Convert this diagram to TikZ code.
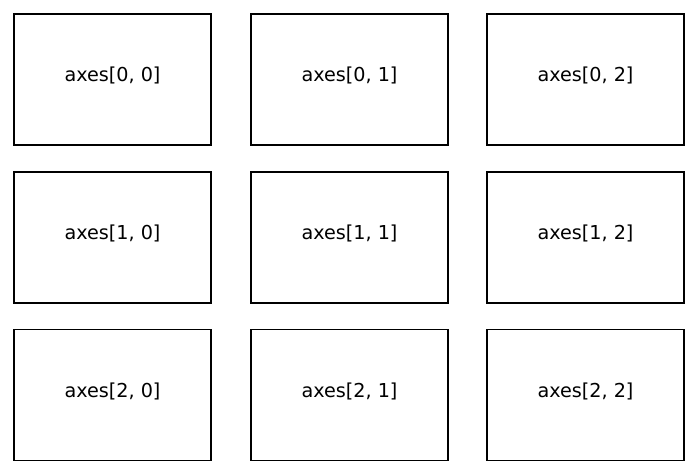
\documentclass[tikz,border=0pt]{standalone}
\usepackage{fontspec}
\setmainfont{DejaVu Sans}
\tikzset{
	axbox/.style = {draw, line width = 0.8pt, minimum width = 98.5pt, minimum height = 65.5pt, inner sep = 0pt, font = \fontsize{9.6pt}{11.5pt}\selectfont}
}
\begin{document}
\begin{tikzpicture}[x = 0.5pt, y = -0.5pt]
	\useasboundingbox (0,0) rectangle (698,475);
	
	\foreach \r/\yc in {0/79.5, 1/237.5, 2/395}
		\foreach \c/\xc in {0/112.5, 1/349.5, 2/585.5}
			\node[axbox](ax\r\c) at (\xc,\yc) {\raisebox{5pt}{axes[\r, \c]}};
	
\end{tikzpicture}
\end{document}
